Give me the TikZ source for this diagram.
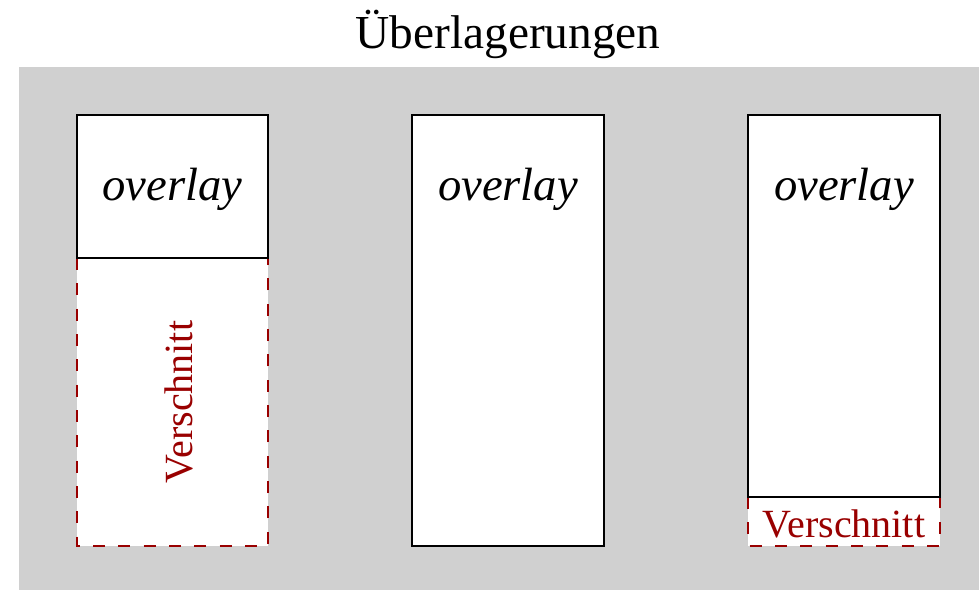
\documentclass[tikz,border=0pt]{standalone}
\usepackage{fontspec}
\setmainfont{Liberation Serif}
\definecolor{bggray}{RGB}{208,208,208}
\definecolor{cutred}{RGB}{153,0,0}
\tikzset{
  solidbox/.style={draw=black, line width=1pt, fill=white},
  cutbox/.style={draw=cutred, line width=1.2pt, dash pattern=on 9pt off 10pt, fill=white},
  overlaytext/.style={font=\fontsize{35}{40}\selectfont\itshape, anchor=base, inner sep=0pt},
  cuttext/.style={font=\fontsize{30}{34}\selectfont, text=cutred, inner sep=0pt},
}
\begin{document}
\begin{tikzpicture}[x=0.75pt,y=-0.75pt]
\useasboundingbox (0,0) rectangle (979,590);
\fill[bggray] (19,67) rectangle (979,590);
\node[font=\fontsize{35.5}{40}\selectfont, anchor=base, inner sep=0pt] (title) at (508,48) {Überlagerungen};
% left
\draw[cutbox] (77,258) rectangle (268,546);
\draw[solidbox] (77,115) rectangle (268,258);
\node[overlaytext] (ov1) at (172.5,200) {overlay};
\node[cuttext, rotate=90, anchor=center] (cut1) at (179,402) {Verschnitt};
% middle
\draw[solidbox] (412,115) rectangle (604,546);
\node[overlaytext] (ov2) at (508,200) {overlay};
% right
\draw[cutbox] (748,497) rectangle (940,546);
\draw[solidbox] (748,115) rectangle (940,497);
\node[overlaytext] (ov3) at (844,200) {overlay};
\node[cuttext, anchor=base] (cut3) at (844,537) {Verschnitt};
\end{tikzpicture}
\end{document}
